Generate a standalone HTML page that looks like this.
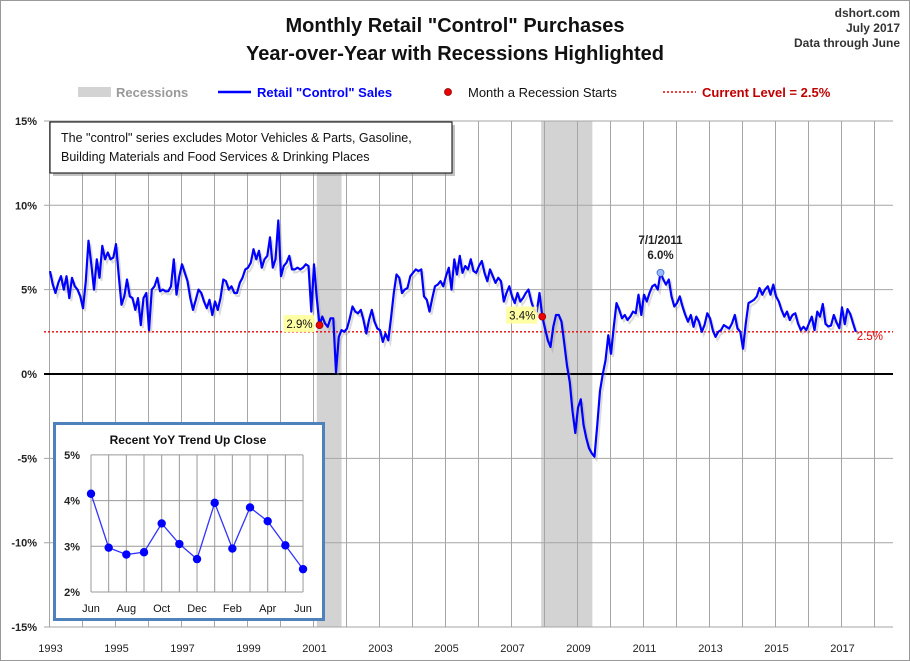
<!DOCTYPE html>
<html><head><meta charset="utf-8">
<style>
html,body{margin:0;padding:0;background:#fff}
#wrap{position:relative;width:910px;height:661px;overflow:hidden;font-family:"Liberation Sans",sans-serif}
svg text{font-family:"Liberation Sans",sans-serif}
</style></head>
<body>
<div id="wrap">
<svg id="chart" width="910" height="661">
  <rect x="0.5" y="0.5" width="909" height="660" fill="#fff" stroke="#999"/>
  <text x="455" y="32" text-anchor="middle" font-size="20" font-weight="bold" fill="#111">Monthly Retail "Control" Purchases</text>
  <text x="455" y="60" text-anchor="middle" font-size="20" font-weight="bold" fill="#111">Year-over-Year with Recessions Highlighted</text>
  <text x="900" y="17" text-anchor="end" font-size="12" font-weight="bold" fill="#333">dshort.com</text>
  <text x="900" y="32" text-anchor="end" font-size="12" font-weight="bold" fill="#333">July 2017</text>
  <text x="900" y="47" text-anchor="end" font-size="12" font-weight="bold" fill="#333">Data through June</text>
  <g>
    <g><rect x="78" y="87" width="33" height="10" fill="#d3d3d3"/><text x="116" y="97" font-size="13" font-weight="bold" fill="#999">Recessions</text></g>
    <g><line x1="218" y1="92" x2="251" y2="92" stroke="#0000ff" stroke-width="2.5"/><text x="257" y="97" font-size="13" font-weight="bold" fill="#0000ff">Retail "Control" Sales</text></g>
    <g><circle cx="448" cy="92" r="3.5" fill="#e00" stroke="#800" stroke-width="0.8"/><text x="468" y="97" font-size="13" fill="#111">Month a Recession Starts</text></g>
    <g><line x1="663" y1="92" x2="696" y2="92" stroke="#e00" stroke-width="1.5" stroke-dasharray="2,2"/><text x="702" y="97" font-size="13" font-weight="bold" fill="#c00000">Current Level = 2.5%</text></g>
  </g>
  <g id="rec"></g>
  <g id="grid"></g>
  <g id="axes"></g>
  <g id="series"></g>
  <g id="notes"></g>
  <g>
    <rect x="53" y="125" width="402" height="51" fill="#888" opacity="0.5"/>
    <rect x="50" y="122" width="402" height="51" fill="#fff" stroke="#000" stroke-width="1"/>
    <text x="61" y="142" font-size="12.5" fill="#111">The "control" series excludes Motor Vehicles &amp; Parts, Gasoline,</text>
    <text x="61" y="161" font-size="12.5" fill="#111">Building Materials and Food Services &amp; Drinking Places</text>
  </g>
  <g id="inset"></g>
</svg>
</div>
<script>
// ---- Main chart data ----
const startYear = 1993;
const sales = [
6.1,5.3,4.8,5.4,5.8,5.0,5.8,4.5,5.7,5.2,5.0,4.6,
3.9,5.5,7.9,6.5,5.0,6.8,5.7,7.6,6.8,7.2,6.8,6.9,
7.7,5.8,4.1,4.6,5.6,4.6,4.5,3.8,4.5,2.9,4.5,4.8,
2.6,5.0,5.2,5.7,4.9,5.0,4.9,4.9,5.2,6.8,4.7,5.8,
6.5,6.0,5.5,4.5,3.8,4.4,5.0,4.8,4.3,3.9,4.4,3.5,
4.3,3.8,4.5,5.6,5.5,5.0,5.2,4.8,4.8,5.4,5.7,6.2,
6.3,6.6,7.4,6.8,7.3,6.3,6.8,7.0,8.1,6.3,6.8,9.1,
5.8,6.4,6.6,7.0,6.2,6.2,6.3,6.2,6.3,6.5,6.4,3.7,
6.5,4.5,2.9,3.4,3.0,2.8,3.3,3.3,0.1,2.2,2.6,2.5,
2.7,3.3,4.0,3.7,3.6,3.8,3.2,2.4,3.2,3.8,3.1,2.7,
2.6,1.9,2.4,2.0,3.3,4.8,5.9,5.7,4.8,5.0,5.1,5.8,
6.0,6.2,6.1,6.2,4.6,4.4,3.7,4.5,5.2,5.3,5.5,5.2,
5.8,6.3,5.0,6.8,5.9,7.0,6.0,6.4,6.2,6.8,6.1,6.0,
6.4,6.7,6.0,5.5,6.2,5.8,5.4,5.7,5.5,4.3,4.8,5.2,
4.6,4.2,4.8,4.3,4.5,4.8,5.0,4.3,3.8,3.7,4.8,3.4,
2.7,2.0,1.6,2.8,3.5,3.5,3.1,1.8,0.5,-0.5,-2.2,-3.5,
-2.0,-1.5,-3.0,-3.8,-4.4,-4.7,-4.9,-3.0,-1.0,0.0,0.8,2.3,
1.2,2.8,4.2,3.8,3.3,3.5,3.2,3.4,3.7,3.6,4.7,3.5,
4.7,4.3,4.8,5.2,5.3,5.0,6.0,5.6,5.3,5.6,4.6,4.0,
4.2,4.6,4.0,3.5,3.1,3.5,2.8,3.4,3.1,2.5,2.9,3.6,
3.3,2.6,2.2,2.5,2.6,2.9,2.8,2.7,3.0,3.5,2.7,2.5,
1.5,3.0,4.2,4.3,4.4,4.6,5.1,4.7,5.0,5.2,4.7,5.3,
4.6,4.3,3.8,3.4,3.7,3.2,3.5,3.6,3.0,2.6,2.8,2.6,
3.0,3.4,2.6,3.7,3.4,4.15,2.97,2.82,2.87,3.5,3.05,2.72,
3.95,2.95,3.85,3.55,3.02,2.5
];
const recessions = [[2001.1, 2001.85], [2007.9, 2009.45]];
const recessionStartIdx = [98, 179];
const peakIdx = 222;
const currentLevel = 2.5;
const yTicks = [-15,-10,-5,0,5,10,15];
const xTickYears = [1993,1995,1997,1999,2001,2003,2005,2007,2009,2011,2013,2015,2017];
// ---- Inset data ----
const insetMonths = ["Jun","","Aug","","Oct","","Dec","","Feb","","Apr","","Jun"];
const insetValues = [4.15,2.97,2.82,2.87,3.5,3.05,2.72,3.95,2.95,3.85,3.55,3.02,2.5];
const insetTicks = [2,3,4,5];

const NS = "http://www.w3.org/2000/svg";
function mk(tag, attrs, parent, txt){const e=document.createElementNS(NS,tag);for(const k in attrs)e.setAttribute(k,attrs[k]);if(txt!==undefined)e.textContent=txt;parent.appendChild(e);return e;}
const yS = v => 374 - v*16.87;
const xYear = y => 49.5 + (y-startYear)*33;
const xIdx = i => 50 + i*2.75;

const grid=document.getElementById('grid'), axes=document.getElementById('axes');
const rec=document.getElementById('rec');
recessions.forEach(r=>{
  const b=mk('rect',{x:xYear(r[0]),y:yS(15),width:xYear(r[1])-xYear(r[0]),height:yS(-15)-yS(15),fill:'#d3d3d3'},rec);
  
  
});
for(let yr=1993; yr<=2018; yr++){
  const l=mk('line',{x1:xYear(yr),x2:xYear(yr),y1:yS(15),y2:yS(-15),stroke:'#a6a6a6','stroke-width':1},grid);
  
  
}
yTicks.forEach(v=>{
  const l=mk('line',{x1:44,x2:893,y1:yS(v),y2:yS(v),stroke:v===0?'#000':'#a6a6a6','stroke-width':v===0?2:1},grid);
  
  
  const t=mk('text',{x:37,y:yS(v)+4,'text-anchor':'end','font-size':11,'font-weight':'bold',fill:'#222'},axes,v+'%');
  
  
});
xTickYears.forEach(yr=>{
  const t=mk('text',{x:xYear(yr)+1,y:652,'text-anchor':'middle','font-size':11,fill:'#222'},axes,String(yr));
  
  
});

const series=document.getElementById('series');
const cl=mk('line',{x1:44,x2:893,y1:yS(currentLevel),y2:yS(currentLevel),stroke:'#e00','stroke-width':1.3,'stroke-dasharray':'2,2'},series);


const pts=sales.map((v,i)=>xIdx(i).toFixed(1)+','+yS(v).toFixed(1)).join(' ');
const sh=mk('polyline',{points:pts,fill:'none',stroke:'#999','stroke-width':2,opacity:0.35,transform:'translate(2,3)'},series);


const pl=mk('polyline',{points:pts,fill:'none',stroke:'#0000ff','stroke-width':2.2,'stroke-linejoin':'round'},series);



const notes=document.getElementById('notes');
recessionStartIdx.forEach(i=>{
  const x=xIdx(i), y=yS(sales[i]);
  const lbl=sales[i].toFixed(1)+'%';
  const bg=mk('rect',{x:x-36,y:y-10,width:31,height:17,fill:'#ffff99',opacity:0.9},notes);
  
  
  const t=mk('text',{x:x-20,y:y+3,'text-anchor':'middle','font-size':11.5,fill:'#111'},notes,lbl);
  
  
  const c=mk('circle',{cx:x,cy:y,r:3.5,fill:'#e00',stroke:'#900','stroke-width':0.8},notes);
  
  
});
{
  const x=xIdx(peakIdx), y=yS(sales[peakIdx]);
  const c=mk('circle',{cx:x,cy:y,r:3.5,fill:'#99bbff',stroke:'#4466cc','stroke-width':0.8},notes);
  
  
  const t1=mk('text',{x:x,y:y-29,'text-anchor':'middle','font-size':11.5,'font-weight':'bold',fill:'#222'},notes,'7/1/2011');
  
  
  const t2=mk('text',{x:x,y:y-14,'text-anchor':'middle','font-size':11.5,'font-weight':'bold',fill:'#222'},notes,sales[peakIdx].toFixed(1)+'%');
  
  
  const lx=xIdx(sales.length-1);
  const t3=mk('text',{x:lx+1,y:yS(currentLevel)+8,'font-size':11.5,fill:'#e00'},notes,currentLevel.toFixed(1)+'%');
  
  
}

// ---- Inset ----
const inset=document.getElementById('inset');
const ib=mk('rect',{x:54.5,y:423.5,width:269,height:196,fill:'#fff',stroke:'#4f81bd','stroke-width':3},inset);


const it=mk('text',{x:188,y:444,'text-anchor':'middle','font-size':12,'font-weight':'bold',fill:'#111'},inset,'Recent  YoY Trend Up Close');


const iy=v=>592-(v-2)*45.7;
const ix=i=>91+i*17.67;
insetTicks.forEach(v=>{
  const l=mk('line',{x1:91,x2:303,y1:iy(v),y2:iy(v),stroke:'#999','stroke-width':1},inset);
  
  
  const t=mk('text',{x:80,y:iy(v)+4,'text-anchor':'end','font-size':11,'font-weight':'bold',fill:'#222'},inset,v+'%');
  
  
});
insetMonths.forEach((m,i)=>{
  const l=mk('line',{x1:ix(i),x2:ix(i),y1:iy(5),y2:iy(2),stroke:'#999','stroke-width':1},inset);
  
  
  if(m){
    const t=mk('text',{x:ix(i),y:612,'text-anchor':'middle','font-size':11,fill:'#111'},inset,m);
    
    
  }
});
const ipts=insetValues.map((v,i)=>ix(i).toFixed(1)+','+iy(v).toFixed(1)).join(' ');
const il=mk('polyline',{points:ipts,fill:'none',stroke:'#3333ff','stroke-width':1.3},inset);


insetValues.forEach((v,i)=>{
  const c=mk('circle',{cx:ix(i),cy:iy(v),r:4.2,fill:'#0000ff'},inset);
  
  
});
</script>
</body></html>
